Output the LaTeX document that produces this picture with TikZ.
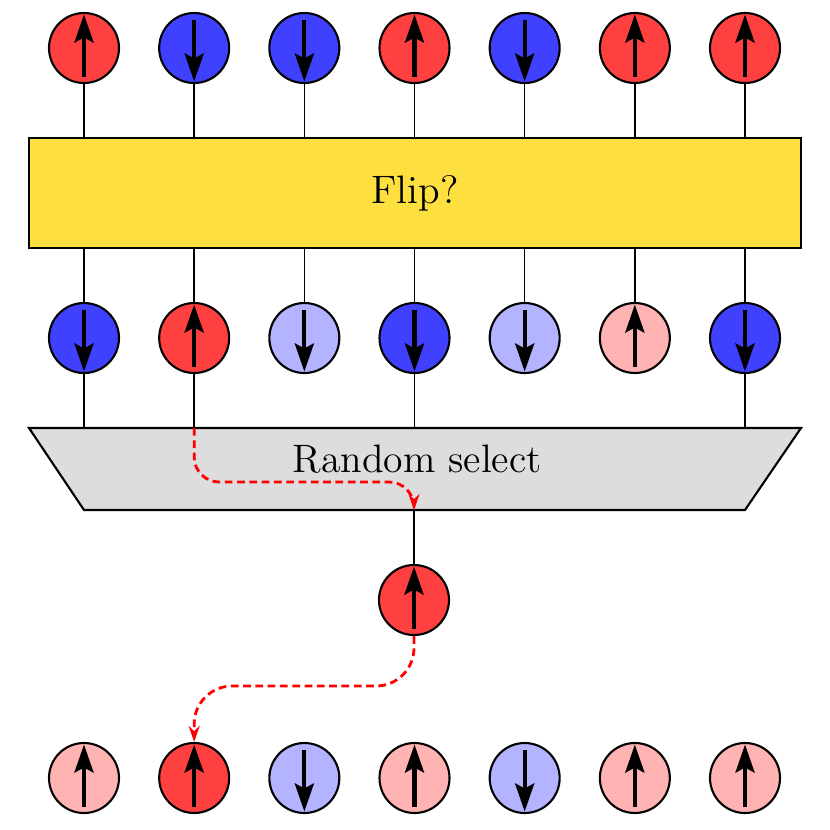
\documentclass[tikz,border=0pt]{standalone}
\usepackage{xcolor}
\usepackage{tikz}
\usetikzlibrary{shapes, positioning, arrows.meta}

\definecolor{spinred}{RGB}{255,64,64}
\definecolor{spinblue}{RGB}{64,64,255}
\definecolor{palered}{RGB}{255,179,179}
\definecolor{paleblue}{RGB}{179,179,255}
\definecolor{flipyellow}{RGB}{253,224,64}
\definecolor{selgray}{RGB}{221,221,221}

\tikzset{
	spin/.style={circle, draw, semithick, minimum size=0.7cm, inner sep=0pt},
	spinarrow/.style={line width=1.2pt, -{Stealth[length=2.8mm, width=1.9mm, inset=0.5mm]}},
	flow/.style={red, thick, dash pattern=on 2.2pt off 1.3pt, rounded corners=0.25cm,
		-{Stealth[length=1.6mm, width=1.1mm]}},
	every node/.style={font=\fontsize{11.3pt}{13pt}\selectfont}
}

\begin{document}
\begin{tikzpicture}
			\useasboundingbox (0,0) rectangle (8.3,-8.3);
			
			%% top row
			\foreach \s/\c [count=\i] in {1/spinred, -1/spinblue, -1/spinblue, 1/spinred, -1/spinblue, 1/spinred, 1/spinred} {
				\node [spin, fill=\c] (t\i) at ({0.84+1.1017*(\i-1)}, -0.48) {};
				\draw [spinarrow] ([shift={(0,{-0.285*\s})}]t\i.center) -- ([shift={(0,{0.335*\s})}]t\i.center);
			}
			
			\node [draw, semithick, fill=flipyellow, minimum width=7.72cm, minimum height=1.1cm] (flip) at (4.15,-1.93) {Flip?};
			
			%% middle row
			\foreach \s/\c [count=\i] in {-1/spinblue, 1/spinred, -1/paleblue, -1/spinblue, -1/paleblue, 1/palered, -1/spinblue} {
				\node [spin, fill=\c] (m\i) at ({0.84+1.1017*(\i-1)}, -3.38) {};
				\draw [spinarrow] ([shift={(0,{-0.285*\s})}]m\i.center) -- ([shift={(0,{0.335*\s})}]m\i.center);
			}
			
			\foreach \i in {1,...,7} {
				\draw (t\i) -- (t\i |- flip.north)
				(flip.south -| m\i) -- (m\i);
			}
			
			%% selector
			\coordinate (seltop) at (4.15,-4.28);
			\coordinate (selbot) at (4.15,-5.10);
			\draw [semithick, fill=selgray] (0.29,-4.28) -- (8.01,-4.28) -- (7.45,-5.10) -- (0.84,-5.10) -- cycle;
			\node (sel) at (4.17,-4.59) {Random select};
			
			\foreach \i in {1,2,4,7} {
				\draw (m\i) -- (m\i |- seltop);
			}
			
			%% picked spin
			\node [spin, fill=spinred] (pick) at (4.14,-6.00) {};
			\draw [spinarrow] ([yshift=-0.285cm]pick.center) -- ([yshift=0.335cm]pick.center);
			\draw (selbot -| pick) -- (pick);
			
			%% bottom row
			\foreach \s/\c [count=\i] in {1/palered, 1/spinred, -1/paleblue, 1/palered, -1/paleblue, 1/palered, 1/palered} {
				\node [spin, fill=\c] (b\i) at ({0.84+1.1017*(\i-1)}, -7.78) {};
				\draw [spinarrow] ([shift={(0,{-0.285*\s})}]b\i.center) -- ([shift={(0,{0.335*\s})}]b\i.center);
			}
			
			%% selection paths
			\draw [flow] (m2 |- seltop) -- (m2 |- 0,-4.82) -- (pick |- 0,-4.82) -- (pick |- selbot);
			\draw [flow, rounded corners=0.38cm] (pick.south) -- (pick |- 0,-6.86) -- (b2 |- 0,-6.86) -- (b2.north);
		\end{tikzpicture}
\end{document}
